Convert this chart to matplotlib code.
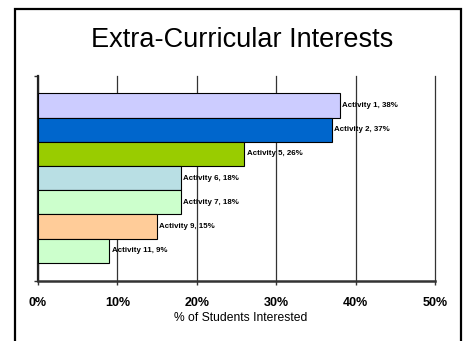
import matplotlib
matplotlib.use("Agg")
import matplotlib.pyplot as plt
from matplotlib.patches import Rectangle

plt.rcParams['font.family'] = ['Liberation Sans', 'DejaVu Sans']

activities = ["Activity 1", "Activity 2", "Activity 5", "Activity 6",
              "Activity 7", "Activity 9", "Activity 11"]
percent_interested = [38, 37, 26, 18, 18, 15, 9]
bar_colors = ["#CCCCFF", "#0066CC", "#99CC00", "#B9DFE4",
              "#CCFFCC", "#FFCC99", "#CCFFCC"]
x_ticks = [0, 10, 20, 30, 40, 50]
x_tick_labels = ["0%", "10%", "20%", "30%", "40%", "50%"]

W, H = 465, 341
fig = plt.figure(figsize=(W / 100, H / 100), dpi=100)
fig.patch.set_facecolor("white")

# slide-style frame around the chart
frame = Rectangle((15 / W, -0.05), (461 - 15) / W, (H - 9) / H + 0.05,
                  transform=fig.transFigure, fill=False, edgecolor="black",
                  linewidth=1.6, clip_on=False)
fig.patches.append(frame)

fig.text(242.5 / W, 1 - 40 / H, "Extra-Curricular Interests",
         ha="center", va="center", fontsize=19.5, color="black")

left, right = 38 / W, 435 / W
bottom, top = 1 - 280.5 / H, 1 - 75.7 / H
ax = fig.add_axes([left, bottom, right - left, top - bottom])

pos = list(range(len(activities)))
ax.barh(pos, percent_interested, height=1.0, color=bar_colors,
        edgecolor="black", linewidth=0.8, zorder=3)

for y, name, v in zip(pos, activities, percent_interested):
    ax.text(v + 0.3, y, f"{name}, {v}%", ha="left", va="center",
            fontsize=5.7, fontweight="bold", color="black", zorder=4)

gap = 0.73
ax.set_ylim(len(activities) - 0.5 + gap, -0.5 - gap)
ax.set_xlim(0, 50)

ax.set_xticks(x_ticks)
ax.set_xticklabels(x_tick_labels, fontsize=9, fontweight="bold")
ax.set_yticks([-0.5 - gap, len(activities) - 0.5 + gap])
ax.set_yticklabels([])
ax.tick_params(axis="x", direction="out", length=3, width=1.0,
               color="#333333", pad=9)
ax.tick_params(axis="y", direction="out", length=3, width=1.0,
               color="#333333")

ax.grid(axis="x", color="#333333", linewidth=0.9, zorder=0)
ax.set_axisbelow(True)
for gl in ax.get_xgridlines():
    gl.set_clip_on(False)

for s in ["top", "right"]:
    ax.spines[s].set_visible(False)
ax.spines["left"].set_linewidth(1.6)
ax.spines["left"].set_color("#222222")
ax.spines["bottom"].set_linewidth(1.8)
ax.spines["bottom"].set_color("#333333")

ax.set_xlabel("% of Students Interested", fontsize=8.7)
ax.xaxis.set_label_coords((240.5 / W - left) / (right - left),
                          (1 - 318.3 / H - bottom) / (top - bottom))
ax.xaxis.label.set_va("center")

fig.savefig("out.png", dpi=100)
